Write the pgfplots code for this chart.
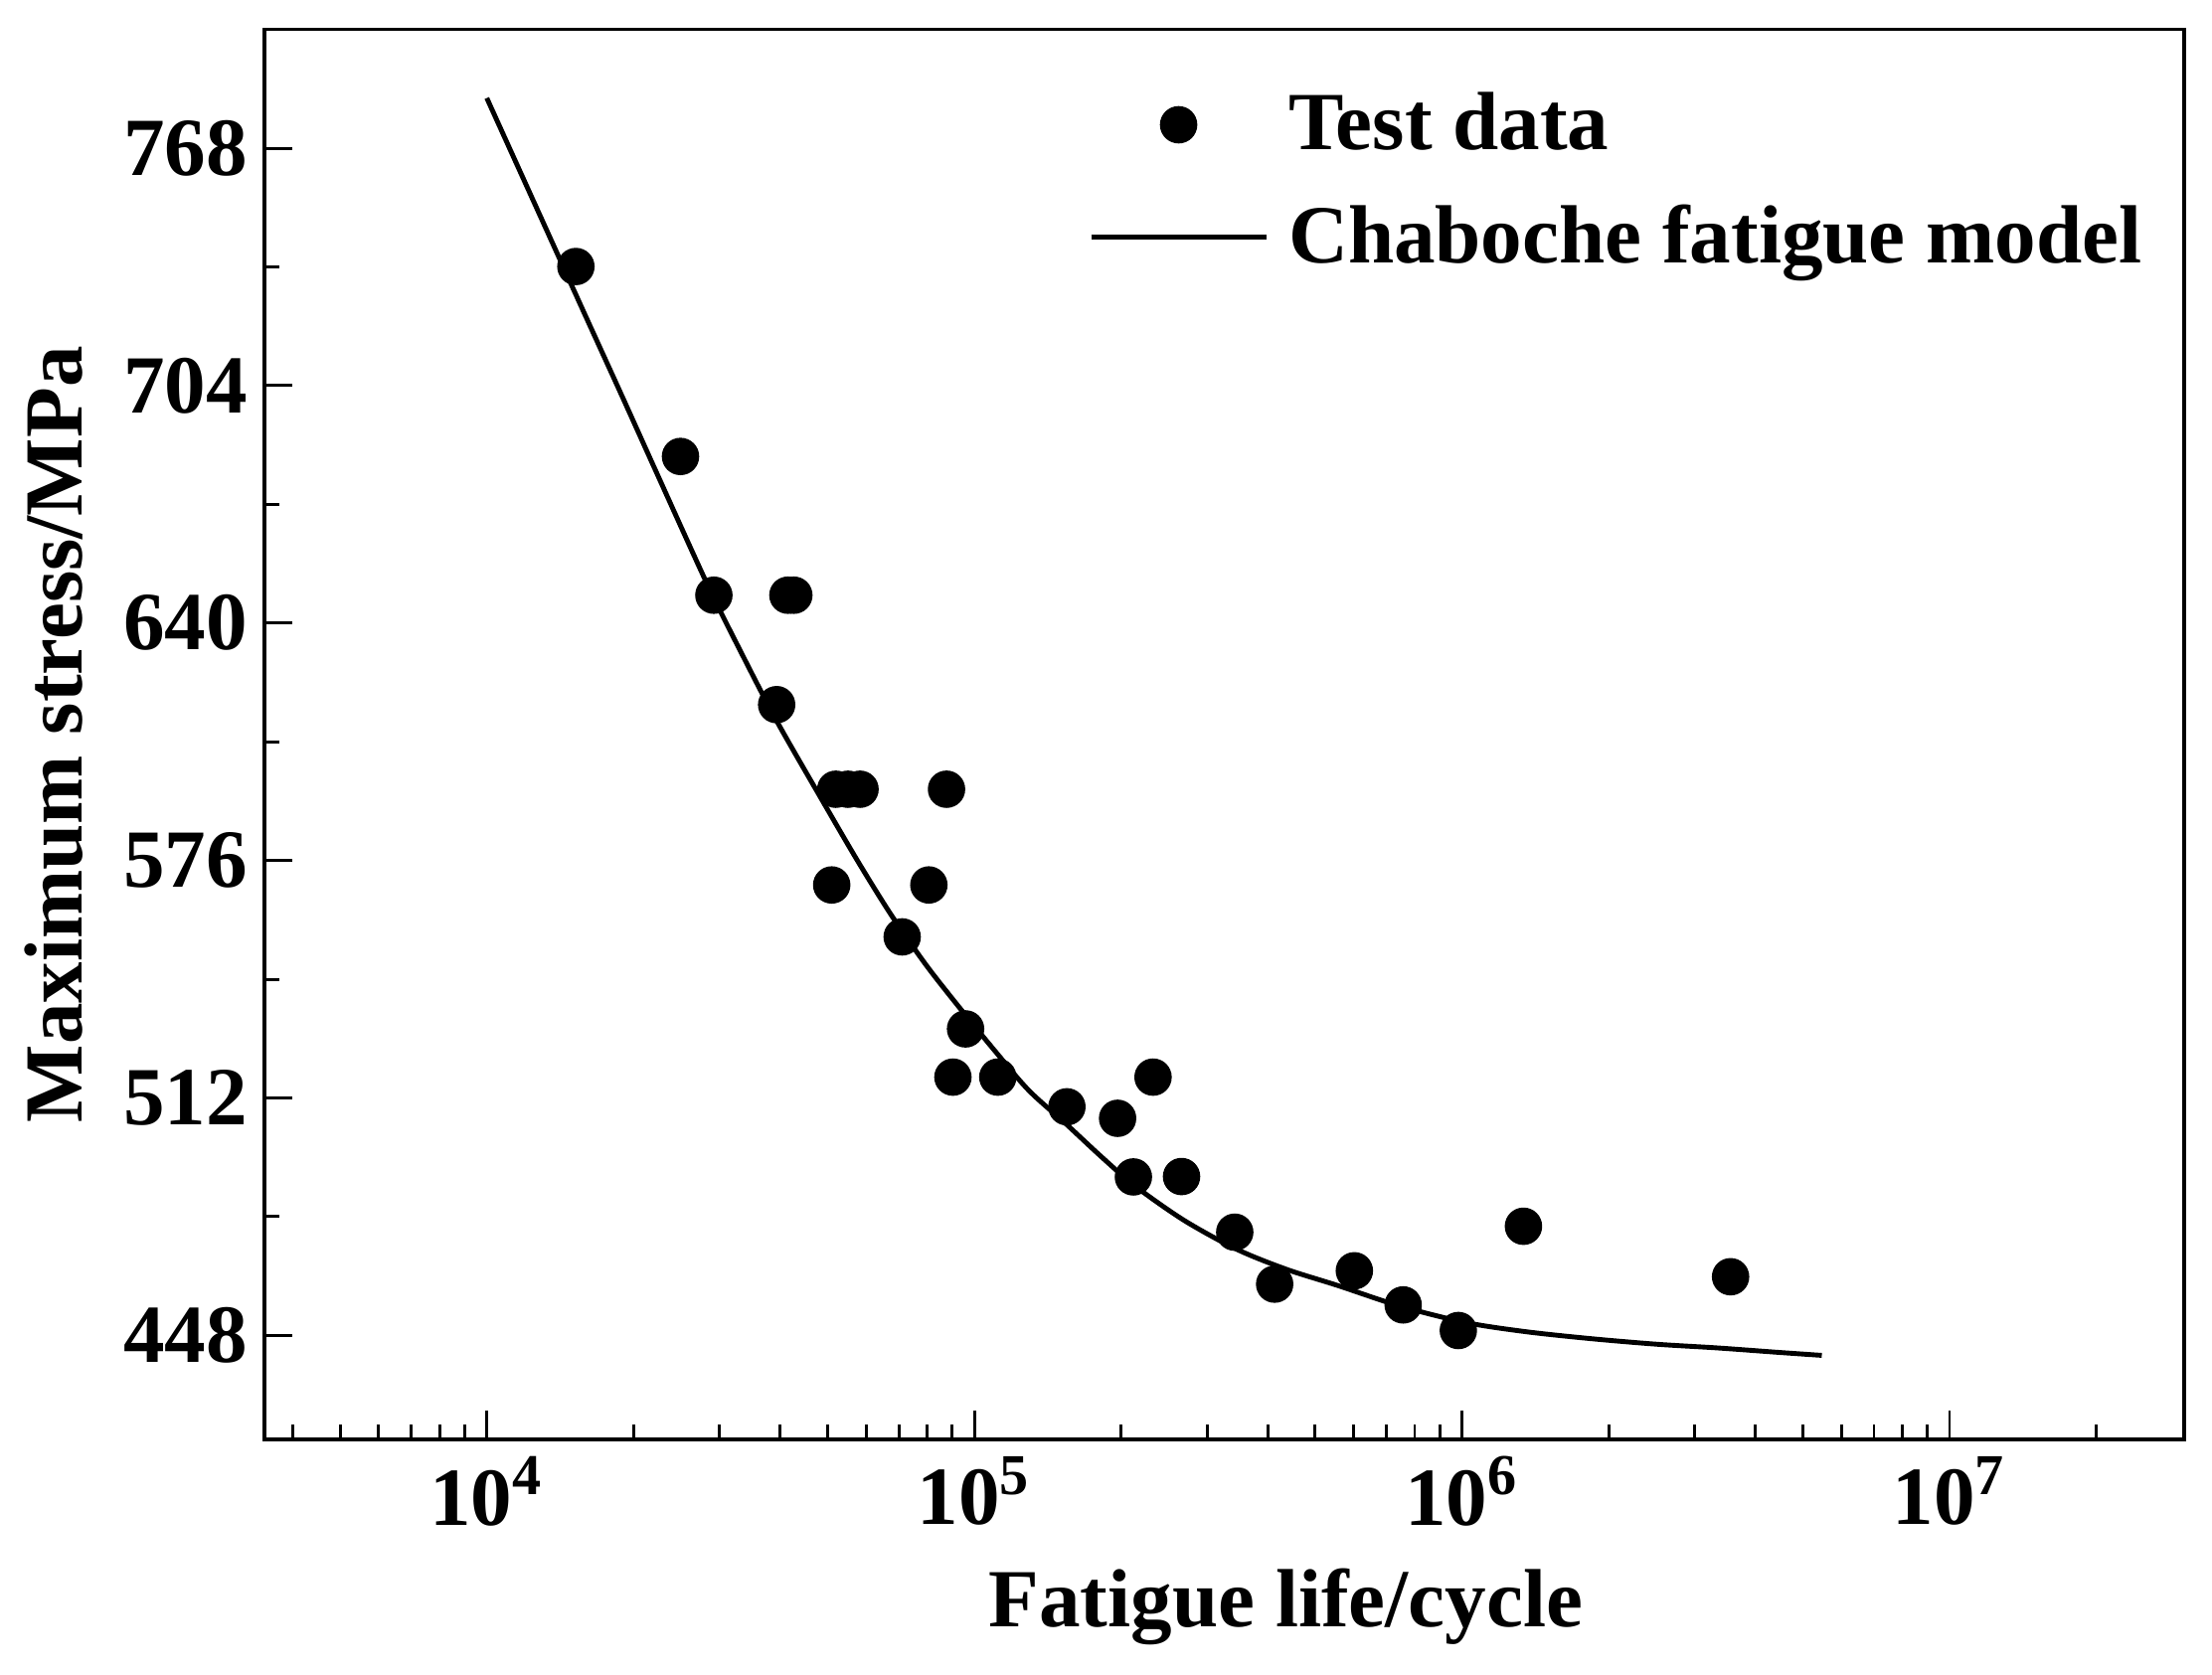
\documentclass[border=0pt]{standalone}
\usepackage{fontspec}
\setmainfont{Liberation Serif}
\usepackage{pgfplots}
\pgfplotsset{compat=1.18}
\newcommand{\bigbf}{\bfseries\fontsize{17}{20}\selectfont}
\pgfplotsset{
  dotlegend/.style={legend image code/.code={\path[draw=none,fill=none] (0cm,0cm) rectangle (1.266cm,0cm);
    \draw[##1] plot[only marks] coordinates {(0.633cm,0cm)};}},
  linelegend/.style={legend image code/.code={\draw[##1] (0cm,0cm) -- (1.266cm,0cm);}},
}
\begin{document}
\begin{tikzpicture}
\begin{axis}[
  scale only axis, width=13.886cm, height=10.198cm,
  xmode=log, xmin=3500, xmax=3.03e7, ymin=420, ymax=800,
  axis line style={line width=0.75pt},
  tick style={black, line width=0.6pt},
  major tick length=0.205cm, minor tick length=0.11cm,
  tick pos=left,
  xtick={1e4,1e5,1e6,1e7},
  xticklabels={10\textsuperscript{4},10\textsuperscript{5},10\textsuperscript{6},10\textsuperscript{7}},
  minor xtick={4000,5000,6000,7000,8000,9000,
    20000,30000,40000,50000,60000,70000,80000,90000,
    200000,300000,400000,500000,600000,700000,800000,900000,
    2000000,3000000,4000000,5000000,6000000,7000000,8000000,9000000,20000000},
  ytick={448,512,576,640,704,768},
  minor ytick={480,544,608,672,736},
  tick label style={font=\bigbf},
  /pgf/number format/assume math mode=true,
  label style={font=\bigbf},
  xlabel={Fatigue life/cycle},
  ylabel={Maximum stress/MPa},
  xlabel style={at={(axis description cs:0.532,-0.1333)}, anchor=base},
  ylabel style={at={(axis description cs:-0.0948,0.5)}, anchor=base},
  legend cell align=left,
  legend style={at={(axis description cs:0.4288,0.956)}, anchor=north west,
    draw=none, fill=none, inner sep=0pt,
    nodes={inner sep=0pt, font=\bigbf},
    row sep=9.8pt,
    /tikz/every odd column/.append style={column sep=0.144cm}},
]
\addplot[only marks, mark=*, mark size=3.65pt, black, dotlegend]
table {
x y
15230 736.1
24960 684.9
29220 647.5
41450 647.5
42630 647.5
39310 618.0
51970 595.2
55050 595.2
58270 595.2
87670 595.2
50980 569.4
80650 569.4
71110 555.4
95920 530.6
90360 517.6
111700 517.6
232500 517.6
154800 509.6
196700 506.5
211900 490.7
266000 490.8
342000 475.8
412900 461.8
601600 465.4
757600 456.2
983000 449.3
1337000 477.4
3556000 463.8
};
\addlegendentry{Test data}
\addplot[black, line width=1pt, smooth, linelegend]
table {
x y
10000 781.5
12589 752.5
15849 723.5
19011 700.7
22387 680.0
28314 650.5
33113 632.5
39174 614.0
48306 593.1
57544 576.0
67453 561.4
79433 548.0
92470 536.9
109648 525.0
129122 514.1
153815 505.1
181970 496.2
213796 488.2
269153 479.0
345144 471.2
436516 465.8
557186 461.4
741310 456.0
1013911 451.5
1348963 449.0
1840772 447.1
2511886 445.6
3349654 444.6
4466836 443.4
5470159 442.6
};
\addlegendentry{Chaboche fatigue model}
\end{axis}
\pgfresetboundingbox
\path[use as bounding box] (-1.913cm,-1.699cm) rectangle (14.087cm,10.411cm);
\end{tikzpicture}
\end{document}
